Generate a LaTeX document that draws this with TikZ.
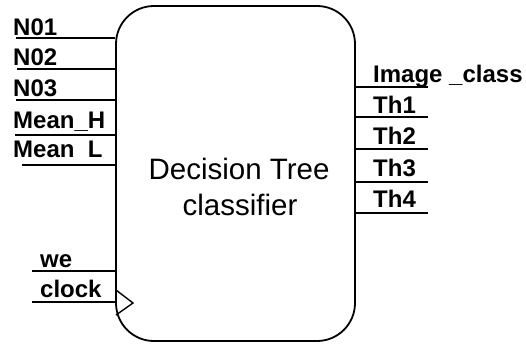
\documentclass[tikz,border=0pt]{standalone}
\usepackage{fontspec}
\setmainfont{Liberation Sans}
\begin{document}
\begin{tikzpicture}[x=1pt,y=-1pt,
  pin/.style={line width=1.4pt},
  lbl/.style={font=\bfseries\fontsize{24}{24}\selectfont, anchor=base west, inner sep=0pt},
  mid/.style={font=\fontsize{29.5}{36}\selectfont, anchor=base, inner sep=0pt},
  block/.style={draw, line width=1.8pt, rounded corners=38pt, minimum width=239pt, minimum height=335pt, inner sep=0pt}
]
\useasboundingbox (0,0) rectangle (526,343);

% main block
\node[block] (dt) at (235.5,173.5) {};
\node[mid] (t1) at (239,179) {Decision Tree};
\node[mid] (t2) at (240,215) {classifier};

% inputs
\coordinate (i1) at (16,38);
\coordinate (i2) at (17,69);
\coordinate (i3) at (16,100);
\coordinate (i4) at (15,135);
\coordinate (i5) at (22,165);
\coordinate (i6) at (32,271);
\coordinate (i7) at (32,302);
\foreach \c in {i1,i2,i3,i4,i5,i6,i7}
  \draw[pin] (\c) -- (\c -| dt.west);

\node[lbl] (l1) at (13,35) {N01};
\node[lbl] (l2) at (13,65.5) {N02};
\node[lbl] (l3) at (13,96.5) {N03};
\node[lbl] (l4) at (13,128) {Mean\_H};
\node[lbl] (l5) at (13,157.5) {Mean\hphantom{\_}L};
\node[lbl] (l6) at (40,267) {we};
\node[lbl] (l7) at (40,297.5) {clock};

% clock marker
\coordinate (ca) at (116,290);
\coordinate (cb) at (133,303);
\coordinate (cc) at (116,315);
\draw[line width=1.4pt, line join=miter] (ca) -- (cb) -- (cc);

% outputs
\coordinate (o1) at (428,87);
\coordinate (o2) at (428,117);
\coordinate (o3) at (428,149);
\coordinate (o4) at (428,182);
\coordinate (o5) at (428,213);
\foreach \c in {o1,o2,o3,o4,o5}
  \draw[pin] (\c -| dt.east) -- (\c);

\node[lbl] (r1) at (373,82) {Image \_class};
\node[lbl] (r2) at (373,113) {Th1};
\node[lbl] (r3) at (373,144) {Th2};
\node[lbl] (r4) at (373,176) {Th3};
\node[lbl] (r5) at (373,207) {Th4};
\end{tikzpicture}
\end{document}
